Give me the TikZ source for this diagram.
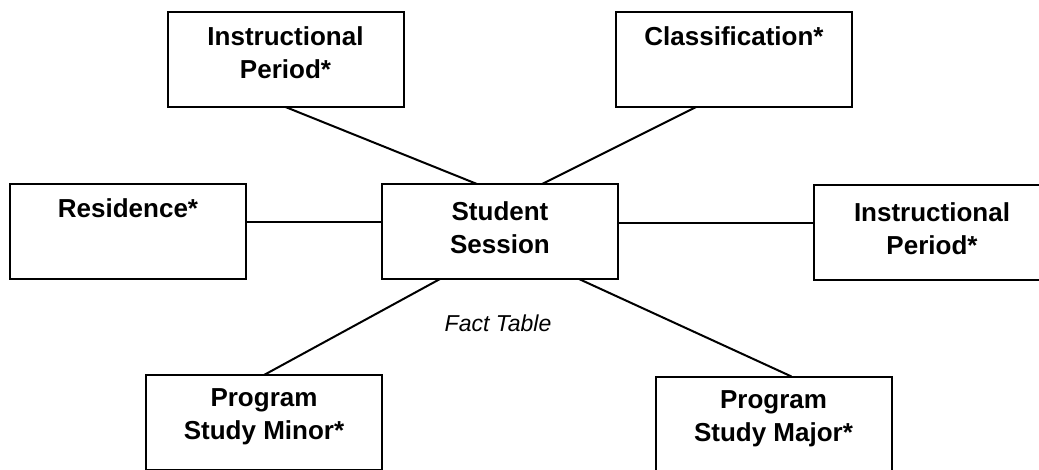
\documentclass[tikz,border=0pt]{standalone}
\usepackage{fontspec}
\setmainfont{Liberation Sans}
\newcommand{\bxt}[2]{\parbox[c][95pt][t]{236pt}{\centering\vspace*{#1}\strut #2}}
\tikzset{
  ent/.style={draw=black, line width=2pt, fill=white, inner sep=0pt, outer sep=0pt,
    font=\bfseries\fontsize{26}{33}\selectfont},
  conn/.style={draw=black, line width=2pt},
  facttxt/.style={font=\itshape\fontsize{23}{28}\selectfont, inner sep=0pt}
}
\begin{document}
\begin{tikzpicture}[x=1pt,y=-1pt]
\useasboundingbox (0,0) rectangle (1039,469);
\clip (0,0) rectangle (1039,469);
\fill[white] (0,0) rectangle (1039,469);
\node[ent] (iptl) at (285.5,59.5) {\bxt{10.5pt}{Instructional\\Period*}};
\node[ent] (cls) at (734,59.5) {\bxt{10.5pt}{Classification*}};
\node[ent] (res) at (128,231) {\bxt{10.5pt}{Residence*}};
\node[ent] (ss) at (500,231.5) {\bxt{13.5pt}{Student\\Session}};
\node[ent] (ipr) at (932,232) {\bxt{13.5pt}{Instructional\\Period*}};
\node[ent] (psmin) at (264,422.5) {\bxt{8.5pt}{Program\\Study Minor*}};
\node[ent] (psmaj) at (773.5,424) {\bxt{8.5pt}{Program\\Study Major*}};
\node[facttxt] (ft) at (498,323) {Fact Table};
\draw[conn] (iptl.south) -- ([xshift=-23pt]ss.north);
\draw[conn] ([xshift=-38pt]cls.south) -- ([xshift=42pt]ss.north);
\draw[conn] ([yshift=9pt]res.east) -- ([yshift=9pt]res.east -| ss.west);
\draw[conn] ([yshift=9pt]ss.east) -- ([yshift=9pt]ss.east -| ipr.west);
\draw[conn] ([xshift=-60pt]ss.south) -- (psmin.north);
\draw[conn] ([xshift=79pt]ss.south) -- ([xshift=18pt]psmaj.north);
\end{tikzpicture}
\end{document}
